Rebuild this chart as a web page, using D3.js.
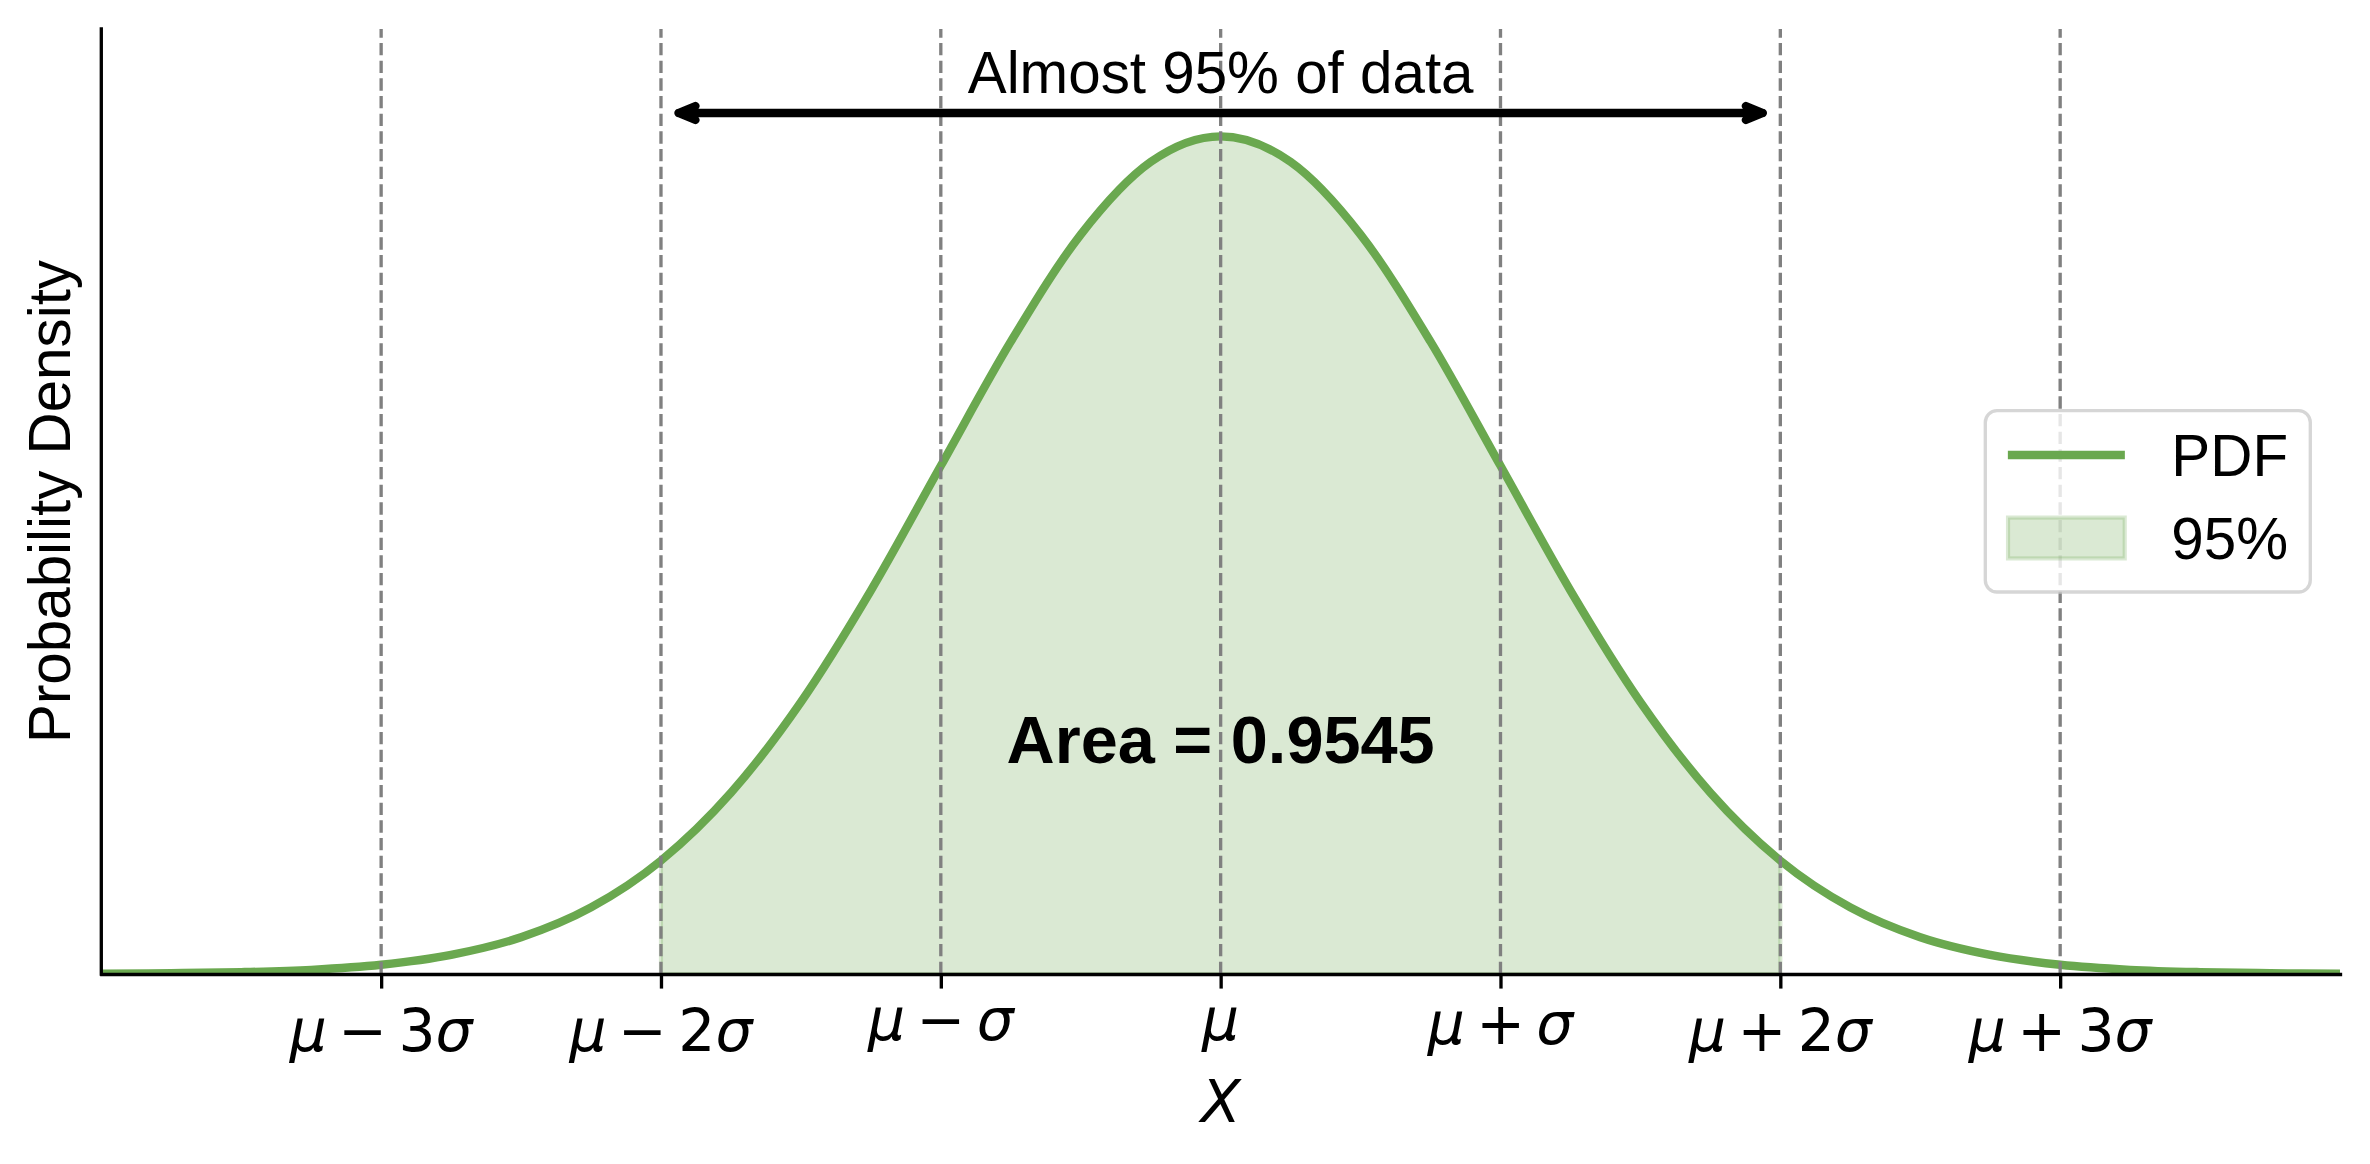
<!DOCTYPE html>
<html>
<head>
<meta charset="utf-8">
<script src="https://cdn.jsdelivr.net/npm/d3@7"></script>
<style>
  html, body { margin: 0; padding: 0; background: #ffffff; }
  svg { display: block; }
</style>
</head>
<body>
<svg id="chart" width="2370" height="1164"></svg>
<script>
// ---------------- data ----------------
// x positions in units of sigma from the mean
const xPoints = [-4, -3.75, -3.5, -3.25, -3, -2.75, -2.5, -2.25, -2, -1.75, -1.5, -1.25, -1, -0.75, -0.5, -0.25,
                 0, 0.25, 0.5, 0.75, 1, 1.25, 1.5, 1.75, 2, 2.25, 2.5, 2.75, 3, 3.25, 3.5, 3.75, 4];
// probability density read at those positions
const pdfValues = [0.0001, 0.0004, 0.0009, 0.0020, 0.0044, 0.0091, 0.0175, 0.0317, 0.0540, 0.0863, 0.1295, 0.1826, 0.2420, 0.3011, 0.3521, 0.3867,
                   0.3989, 0.3867, 0.3521, 0.3011, 0.2420, 0.1826, 0.1295, 0.0863, 0.0540, 0.0317, 0.0175, 0.0091, 0.0044, 0.0020, 0.0009, 0.0004, 0.0001];
const tickValues = [-3, -2, -1, 0, 1, 2, 3];
const tickLabels = ["μ − 3σ", "μ − 2σ", "μ − σ", "μ", "μ + σ", "μ + 2σ", "μ + 3σ"];
const shadeRange = [-2, 2];
const arrowY = 0.41;
const arrowText = "Almost 95% of data";
const arrowTextY = 0.42;
const areaText = "Area = 0.9545";
const areaTextY = 0.1;
const legendLabels = ["PDF", "95%"];
const xDomain = [-4, 4];
const yDomain = [0, 0.45];
const xLabel = "X";
const yLabel = "Probability Density";

// ---------------- layout ----------------
const W = 2370, H = 1164;
const plot = { left: 101.3, right: 2340, top: 29, bottom: 974 };
const PT = 300 / 72;              // px per point
const fs14 = 14 * PT;             // 58.33 px
const fs16 = 16 * PT;
const green = "#6aa84f";
const fillGreen = "rgba(106,168,79,0.25)";

const svg = d3.select("#chart");
const x = d3.scaleLinear().domain(xDomain).range([plot.left, plot.right]);
const y = d3.scaleLinear().domain(yDomain).range([plot.bottom, plot.top]);

const pts = xPoints.map((v, i) => ({ x: v, y: pdfValues[i] }));

svg.append("defs").append("clipPath").attr("id", "clip")
  .append("rect")
  .attr("x", plot.left).attr("y", plot.top)
  .attr("width", plot.right - plot.left).attr("height", plot.bottom - plot.top);

const gPlot = svg.append("g").attr("clip-path", "url(#clip)");

// shaded area
const shaded = pts.filter(d => d.x >= shadeRange[0] && d.x <= shadeRange[1]);
const area = d3.area().x(d => x(d.x)).y0(y(0)).y1(d => y(d.y)).curve(d3.curveMonotoneX);
gPlot.append("path")
  .datum(shaded)
  .attr("d", area)
  .attr("fill", fillGreen)
  .attr("stroke", fillGreen)
  .attr("stroke-width", 1 * PT);

// PDF line
const line = d3.line().x(d => x(d.x)).y(d => y(d.y)).curve(d3.curveMonotoneX);
gPlot.append("path")
  .datum(pts)
  .attr("d", line)
  .attr("fill", "none")
  .attr("stroke", green)
  .attr("stroke-width", 2 * PT)
  .attr("stroke-linejoin", "round")
  .attr("stroke-linecap", "square");

// dashed vertical lines
gPlot.selectAll("line.vline")
  .data(tickValues)
  .join("line")
  .attr("class", "vline")
  .attr("x1", d => x(d)).attr("x2", d => x(d))
  .attr("y1", y(yDomain[0])).attr("y2", y(yDomain[1]))
  .attr("stroke", "#808080")
  .attr("stroke-width", 0.8 * PT)
  .attr("stroke-dasharray", `${2.96 * PT} ${1.28 * PT}`);

// bottom axis with ticks
const xAxis = d3.axisBottom(x)
  .tickValues(tickValues)
  .tickSize(3.5 * PT)
  .tickSizeOuter(0)
  .tickFormat(() => "");
const gx = svg.append("g").attr("transform", `translate(0,${plot.bottom})`).call(xAxis);
gx.select(".domain").attr("stroke", "#000").attr("stroke-width", 0.8 * PT).attr("stroke-linecap", "square");
gx.selectAll(".tick line").attr("stroke", "#000").attr("stroke-width", 0.8 * PT);

// left spine (no ticks)
svg.append("line")
  .attr("x1", plot.left).attr("x2", plot.left)
  .attr("y1", plot.top).attr("y2", plot.bottom)
  .attr("stroke", "#000").attr("stroke-width", 0.8 * PT).attr("stroke-linecap", "square");

// --- mathtext-like tick labels ---
const canvas = document.createElement("canvas");
const ctx = canvas.getContext("2d");
function pieces(str) {
  const out = [];
  for (const ch of str) {
    if (ch === " ") continue;
    const italic = /[A-Za-zμσ]/.test(ch);
    const op = (ch === "−" || ch === "+");
    out.push({ t: ch, italic, op });
  }
  return out;
}
function inkAscent(ps, size) {
  let asc = 0;
  for (const p of ps) {
    ctx.font = `${p.italic ? "italic " : ""}${size}px "DejaVu Sans"`;
    const m = ctx.measureText(p.t);
    asc = Math.max(asc, m.actualBoundingBoxAscent);
  }
  return asc;
}
const tickFs = fs14;
const opSpace = 0.2 * 0.974 * tickFs;
const labelInkTop = plot.bottom + 3.5 * PT + 3.5 * PT + 4;
tickValues.forEach((v, i) => {
  const ps = pieces(tickLabels[i]);
  const asc = inkAscent(ps, tickFs);
  const t = svg.append("text")
    .attr("x", x(v))
    .attr("y", labelInkTop + asc)
    .attr("text-anchor", "middle")
    .attr("font-family", "'DejaVu Sans'")
    .attr("font-size", tickFs)
    .attr("fill", "#000");
  let pendingSpace = 0;
  ps.forEach((p, k) => {
    const ts = t.append("tspan")
      .attr("font-style", p.italic ? "italic" : "normal")
      .text(p.t);
    let dx = pendingSpace;
    pendingSpace = 0;
    if (p.op) { dx += opSpace; pendingSpace = opSpace; }
    if (dx) ts.attr("dx", dx);
  });
});

// x label
svg.append("text")
  .attr("x", x(0)).attr("y", 1122)
  .attr("text-anchor", "middle")
  .attr("font-family", "'DejaVu Sans'")
  .attr("font-style", "italic")
  .attr("font-size", fs14)
  .text(xLabel);

// y label
svg.append("text")
  .attr("transform", `translate(70,${(plot.top + plot.bottom) / 2}) rotate(-90)`)
  .attr("text-anchor", "middle")
  .attr("font-family", "'Liberation Sans', Arial, sans-serif")
  .attr("font-size", fs14)
  .text(yLabel);

// arrow
const shrink = 17.5;
const ax0 = x(shadeRange[0]) + shrink, ax1 = x(shadeRange[1]) - shrink, ay = y(arrowY);
const headL = 17, headW = 7;
const arrowPath = d3.path();
arrowPath.moveTo(ax0, ay); arrowPath.lineTo(ax1, ay);
arrowPath.moveTo(ax0 + headL, ay - headW); arrowPath.lineTo(ax0, ay); arrowPath.lineTo(ax0 + headL, ay + headW);
arrowPath.moveTo(ax1 - headL, ay - headW); arrowPath.lineTo(ax1, ay); arrowPath.lineTo(ax1 - headL, ay + headW);
svg.append("path")
  .attr("d", arrowPath.toString())
  .attr("fill", "none")
  .attr("stroke", "#000")
  .attr("stroke-width", 2 * PT)
  .attr("stroke-linejoin", "round")
  .attr("stroke-linecap", "round");

svg.append("text")
  .attr("x", x(0)).attr("y", y(arrowTextY) + 1)
  .attr("text-anchor", "middle")
  .attr("font-family", "'Liberation Sans', Arial, sans-serif")
  .attr("font-size", fs14)
  .text(arrowText);

svg.append("text")
  .attr("x", x(0)).attr("y", y(areaTextY) - 1)
  .attr("text-anchor", "middle")
  .attr("font-family", "'Liberation Sans', Arial, sans-serif")
  .attr("font-weight", "bold")
  .attr("font-size", fs16)
  .text(areaText);

// legend
const lg = { x: 1985.3, y: 410.7, w: 325, h: 181.3 };
const gl = svg.append("g");
gl.append("rect")
  .attr("x", lg.x).attr("y", lg.y).attr("width", lg.w).attr("height", lg.h)
  .attr("rx", 0.2 * fs14).attr("ry", 0.2 * fs14)
  .attr("fill", "rgba(255,255,255,0.8)")
  .attr("stroke", "rgba(204,204,204,0.8)")
  .attr("stroke-width", 0.8 * PT);
const hx0 = lg.x + 0.4 * fs14 - 0.6;
const hx1 = hx0 + 2 * fs14;
const tx = hx1 + 0.8 * fs14;
const rowC = [455, 538];
gl.append("line")
  .attr("x1", hx0 + 4).attr("x2", hx1 - 4)
  .attr("y1", rowC[0]).attr("y2", rowC[0])
  .attr("stroke", green).attr("stroke-width", 2 * PT).attr("stroke-linecap", "square");
gl.append("rect")
  .attr("x", hx0).attr("y", rowC[1] - 0.35 * fs14)
  .attr("width", hx1 - hx0).attr("height", 0.7 * fs14)
  .attr("fill", fillGreen).attr("stroke", fillGreen).attr("stroke-width", 1 * PT);
legendLabels.forEach((lab, i) => {
  gl.append("text")
    .attr("x", tx).attr("y", rowC[i] + 0.358 * fs14)
    .attr("font-family", "'Liberation Sans', Arial, sans-serif")
    .attr("font-size", fs14)
    .text(lab);
});
</script>
</body>
</html>
